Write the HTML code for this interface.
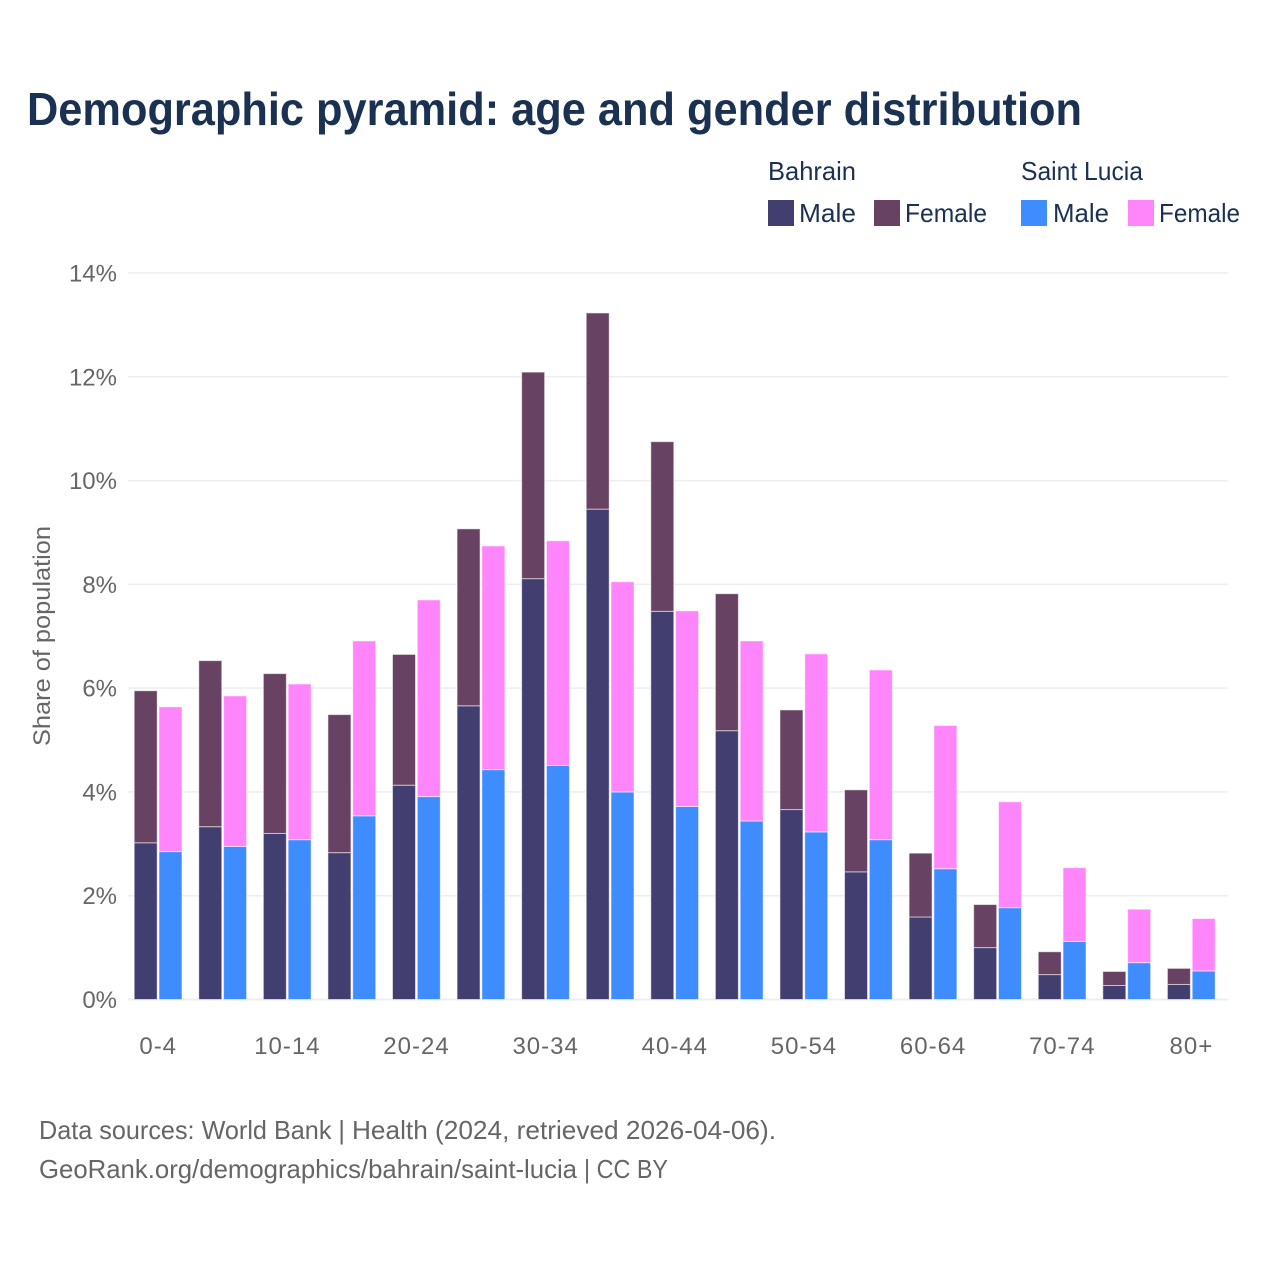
<!DOCTYPE html>
<html lang="en">
<head>
<meta charset="utf-8">
<title>Demographic pyramid</title>
<style>
html,body{margin:0;padding:0;background:#fff;width:1280px;height:1280px;overflow:hidden}
svg{display:block;font-family:"Liberation Sans",sans-serif}
</style>
</head>
<body>
<svg id="chart" width="1280" height="1280" viewBox="0 0 1280 1280" xmlns="http://www.w3.org/2000/svg">
  <rect width="1280" height="1280" fill="#fff"/>
  <text x="27" y="125" font-size="46" font-weight="700" fill="#1a3152" textLength="1055" lengthAdjust="spacingAndGlyphs">Demographic pyramid: age and gender distribution</text>

  <g font-size="26" fill="#1a3152">
    <text x="768" y="180" textLength="88" lengthAdjust="spacingAndGlyphs">Bahrain</text>
    <text x="1021" y="180" textLength="122" lengthAdjust="spacingAndGlyphs">Saint Lucia</text>
    <rect x="768" y="200" width="26" height="26" fill="#423e70"/>
    <text x="799" y="222" textLength="57" lengthAdjust="spacingAndGlyphs">Male</text>
    <rect x="874" y="200" width="26" height="26" fill="#684263"/>
    <text x="905" y="222" textLength="82" lengthAdjust="spacingAndGlyphs">Female</text>
    <rect x="1021" y="200" width="26" height="26" fill="#3f8cff"/>
    <text x="1053" y="222" textLength="56" lengthAdjust="spacingAndGlyphs">Male</text>
    <rect x="1128" y="200" width="26" height="26" fill="#ff85fb"/>
    <text x="1159" y="222" textLength="81" lengthAdjust="spacingAndGlyphs">Female</text>
  </g>

  <g id="grid"></g>
  <g id="bars"></g>
  <g id="yticks"></g>
  <g id="xticks"></g>

  <text transform="translate(50,636) rotate(-90)" text-anchor="middle" font-size="24" fill="#666" textLength="220" lengthAdjust="spacingAndGlyphs">Share of population</text>

  <g font-size="26" fill="#666">
    <text x="39" y="1139" textLength="306" lengthAdjust="spacingAndGlyphs">Data sources: World Bank |</text>
    <text x="352" y="1139" textLength="424" lengthAdjust="spacingAndGlyphs">Health (2024, retrieved 2026-04-06).</text>
    <text x="39" y="1178" textLength="538" lengthAdjust="spacingAndGlyphs">GeoRank.org/demographics/bahrain/saint-lucia</text>
    <text x="584" y="1178" textLength="84" lengthAdjust="spacingAndGlyphs">| CC BY</text>
  </g>
</svg>
<script>
const categories = ["0-4","5-9","10-14","15-19","20-24","25-29","30-34","35-39","40-44","45-49","50-54","55-59","60-64","65-69","70-74","75-79","80+"];
const bahrainMale = [3.02,3.33,3.20,2.83,4.13,5.66,8.11,9.45,7.48,5.18,3.66,2.46,1.59,1.00,0.48,0.27,0.29];
const bahrainFemale = [2.93,3.20,3.08,2.66,2.52,3.41,3.98,3.78,3.27,2.64,1.92,1.58,1.23,0.83,0.44,0.27,0.31];
const saintLuciaMale = [2.85,2.95,3.08,3.54,3.91,4.43,4.51,4.00,3.72,3.44,3.23,3.08,2.52,1.77,1.12,0.71,0.55];
const saintLuciaFemale = [2.79,2.90,3.00,3.37,3.79,4.31,4.33,4.05,3.77,3.47,3.43,3.27,2.76,2.04,1.42,1.03,1.01];
const yTicks = [0,2,4,6,8,10,12,14];
const xTickLabels = ["0-4","10-14","20-24","30-34","40-44","50-54","60-64","70-74","80+"];

const SVG_NS = "http://www.w3.org/2000/svg";
const plotLeft = 128, plotRight = 1228, yZero = 999.5, yTop = 273;
const firstCenter = 158.2, groupStep = (1191.4 - 158.2) / (categories.length - 1);

function yScale(v) { return yZero - (v / 14) * (yZero - yTop); }
function xCenter(category) { return firstCenter + categories.indexOf(category) * groupStep; }

function make(tag, attrs) {
  const el = document.createElementNS(SVG_NS, tag);
  for (const k in attrs) el.setAttribute(k, attrs[k]);
  return el;
}

const gridGroup = document.getElementById("grid");
const yTickGroup = document.getElementById("yticks");
yTicks.forEach(function (t) {
  const line = make("line", { x1: plotLeft, x2: plotRight, y1: yScale(t), y2: yScale(t), stroke: "#eeeeee", "stroke-width": t === 0 ? 2 : 1.5 });
  
  
  gridGroup.appendChild(line);
  const label = make("text", { x: 117, y: yScale(t) + 8.5, "text-anchor": "end", "font-size": 24, fill: "#666" });
  label.textContent = t + "%";
  
  
  yTickGroup.appendChild(label);
});

const xTickGroup = document.getElementById("xticks");
xTickLabels.forEach(function (c) {
  const label = make("text", { x: xCenter(c), y: 1054, "text-anchor": "middle", "font-size": 24, "letter-spacing": 1, fill: "#666" });
  label.textContent = c;
  
  
  xTickGroup.appendChild(label);
});

const barGroup = document.getElementById("bars");
function drawBar(cx, base, value, fill, name) {
  const top = yScale(base + value), bottom = yScale(base);
  const bar = make("rect", { x: cx, y: top, width: 23, height: bottom - top, fill: fill, stroke: "#fff", "stroke-opacity": 0.55, "stroke-width": 1 });
  
  
  barGroup.appendChild(bar);
}
categories.forEach(function (c, i) {
  const cx = xCenter(c);
  drawBar(cx - 24, 0, bahrainMale[i], "#423e70", "bar-bahrain-male-" + c);
  drawBar(cx - 24, bahrainMale[i], bahrainFemale[i], "#684263", "bar-bahrain-female-" + c);
  drawBar(cx + 0.8, 0, saintLuciaMale[i], "#3f8cff", "bar-saint-lucia-male-" + c);
  drawBar(cx + 0.8, saintLuciaMale[i], saintLuciaFemale[i], "#ff85fb", "bar-saint-lucia-female-" + c);
});
</script>
</body>
</html>
